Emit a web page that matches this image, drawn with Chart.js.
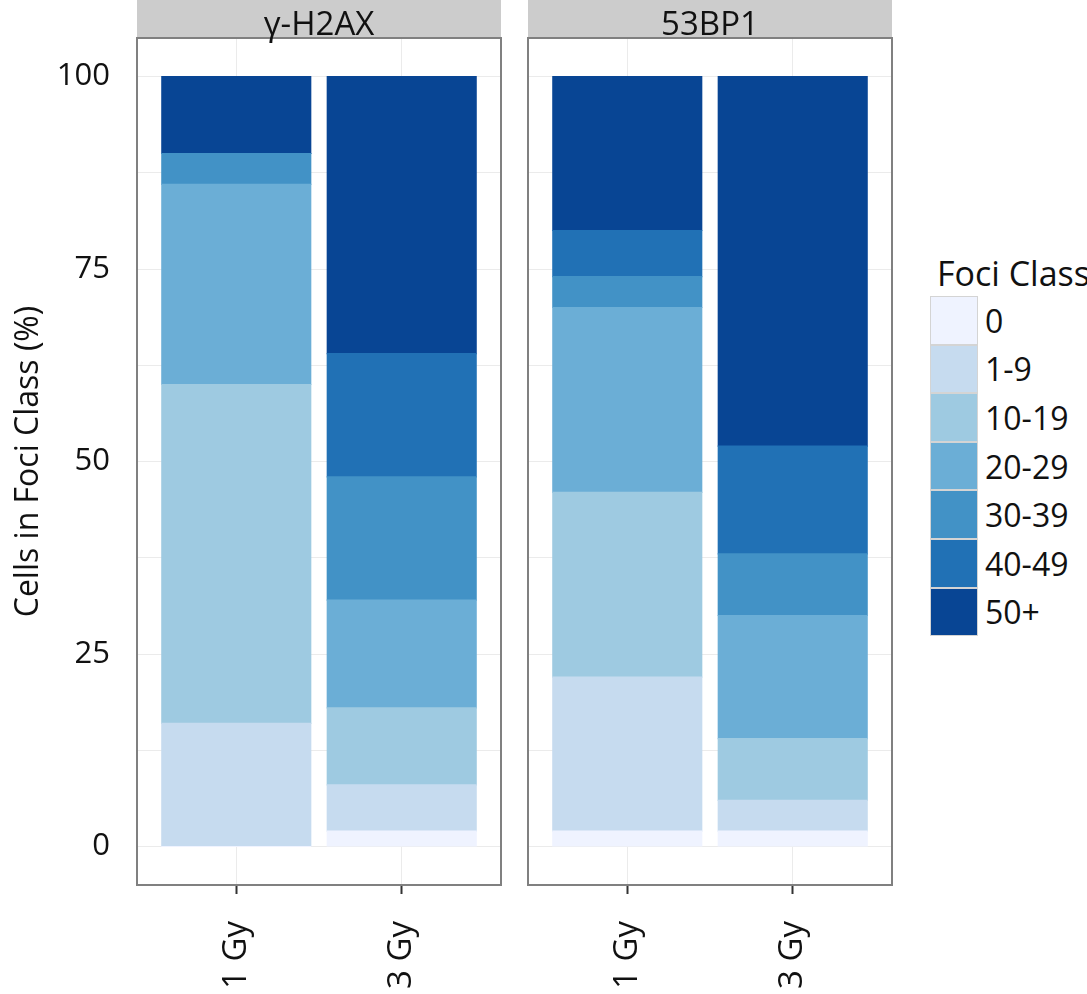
<!DOCTYPE html>
<html>
<head>
<meta charset="utf-8">
<script src="https://cdn.jsdelivr.net/npm/chart.js@4/dist/chart.umd.min.js"></script>
<style>
  html, body { margin: 0; padding: 0; background: #fff; overflow: hidden; }
  body { width: 1087px; height: 994px; position: relative; font-family: 'Open Sans', sans-serif; }
  .panel { position: absolute; top: 0; }
  .strip {
    position: absolute; top: 0; height: 37px; background: #cccccc;
    font-size: 33px; line-height: 37px; text-align: center; color: #111;
    overflow: visible; white-space: nowrap;
  }
  .strip span { position: relative; top: 4px; }
  #legend { position: absolute; left: 930px; top: 251px; color: #111; }
  #legend .ttl { font-size: 34px; margin-left: 7px; line-height: 45px; white-space: nowrap; }
  #legend .row { display: flex; align-items: center; height: 48.6px; }
  #legend .key { width: 48px; height: 48.6px; box-sizing: border-box; border: 1px solid #d4d4d4; }
  #legend .lab { font-size: 32px; margin-left: 7px; }
</style>
</head>
<body>

<div class="panel" style="left:0;width:502px;height:994px;"><canvas id="leftChart"></canvas></div>
<div class="panel" style="left:520px;width:380px;height:994px;"><canvas id="rightChart"></canvas></div>

<div class="strip" style="left:137px;width:364px;"><span>γ-H2AX</span></div>
<div class="strip" style="left:528px;width:364px;"><span>53BP1</span></div>

<div id="legend"></div>

<script>
  // Foci classes and colours
  const fociClasses = ['0', '1-9', '10-19', '20-29', '30-39', '40-49', '50+'];
  const classColors = ['#eff3ff', '#c6dbef', '#9ecae1', '#6baed6', '#4292c6', '#2171b5', '#084594'];

  // doses (x positions 1 and 2 on each panel)
  const doseLabels = ['1 Gy', '3 Gy'];
  const dosePos = [1, 2];

  // % of cells per foci class
  const h2ax1Gy = [0, 16, 44, 26, 4, 0, 10];
  const h2ax3Gy = [2, 6, 10, 14, 16, 16, 36];
  const bp1Gy   = [2, 20, 24, 24, 4, 6, 20];
  const bp3Gy   = [2, 4, 8, 16, 8, 14, 48];

  const yTicks = [0, 25, 50, 75, 100];

  const FONT = "'Open Sans', sans-serif";
  const GRID = '#ebebeb';

  // panel border round the chart area
  const panelBorder = {
    id: 'panelBorder',
    afterDraw(chart) {
      const { ctx, chartArea: a } = chart;
      ctx.save();
      ctx.strokeStyle = '#808080';
      ctx.lineWidth = 2;
      ctx.strokeRect(a.left, a.top, a.right - a.left, a.bottom - a.top);
      ctx.restore();
    }
  };

  function makeDatasets(first, second) {
    return fociClasses.map((c, i) => ({
      label: c,
      data: [
        { x: dosePos[0], y: first[i] },
        { x: dosePos[1], y: second[i] }
      ],
      backgroundColor: classColors[i],
      borderWidth: 0,
      inflateAmount: 0.6,
      categoryPercentage: 0.9,
      barPercentage: 1.0
    }));
  }

  function makeChart(id, first, second, showY) {
    const ctx = document.getElementById(id).getContext('2d');
    return new Chart(ctx, {
      type: 'bar',
      data: { datasets: makeDatasets(first, second) },
      options: {
        responsive: true,
        maintainAspectRatio: false,
        animation: false,
        layout: { padding: { top: 38, left: showY ? 0 : 8, right: showY ? 1 : 8, bottom: 0 } },
        plugins: { legend: { display: false }, tooltip: { enabled: false } },
        scales: {
          x: {
            type: 'linear',
            stacked: true,
            min: 0.4,
            max: 2.6,
            offset: false,
            afterBuildTicks: (scale) => { scale.ticks = dosePos.map(v => ({ value: v })); },
            afterFit: (scale) => { scale.height = 109; scale.paddingLeft = 0; scale.paddingRight = 0; },
            border: { display: false },
            grid: { offset: false, color: GRID, lineWidth: 1, tickColor: '#333', tickLength: 9, tickWidth: 2 },
            ticks: {
              minRotation: 90,
              maxRotation: 90,
              padding: 27,
              color: '#111',
              font: { family: FONT, size: 33 },
              callback: (v) => doseLabels[dosePos.indexOf(v)]
            }
          },
          y: {
            display: true,
            stacked: true,
            min: -5,
            max: 105,
            afterBuildTicks: (scale) => {
              const t = [];
              for (let v = 0; v <= 100; v += 12.5) t.push({ value: v });
              scale.ticks = t;
            },
            afterFit: (scale) => {
              scale.width = showY ? 137 : 0;
              scale.paddingTop = 0;
              scale.paddingBottom = 0;
            },
            border: { display: false },
            grid: { color: GRID, lineWidth: 1, drawTicks: false },
            ticks: {
              display: showY,
              padding: 27,
              color: '#111',
              font: { family: FONT, size: 31 },
              callback: (v) => (yTicks.includes(v) ? v : '')
            },
            title: {
              display: showY,
              text: 'Cells in Foci Class (%)',
              color: '#111',
              font: { family: FONT, size: 32 },
              padding: { top: 10, bottom: 0 }
            }
          }
        }
      },
      plugins: [panelBorder]
    });
  }

  function buildLegend() {
    const box = document.getElementById('legend');
    const t = document.createElement('div');
    t.className = 'ttl';
    t.textContent = 'Foci Class';
    box.appendChild(t);
    fociClasses.forEach((c, i) => {
      const row = document.createElement('div');
      row.className = 'row';
      const k = document.createElement('div');
      k.className = 'key';
      k.style.background = classColors[i];
      const l = document.createElement('div');
      l.className = 'lab';
      l.textContent = c;
      row.appendChild(k);
      row.appendChild(l);
      box.appendChild(row);
    });
  }

  makeChart('leftChart', h2ax1Gy, h2ax3Gy, true);
  makeChart('rightChart', bp1Gy, bp3Gy, false);
  buildLegend();
</script>
</body>
</html>
